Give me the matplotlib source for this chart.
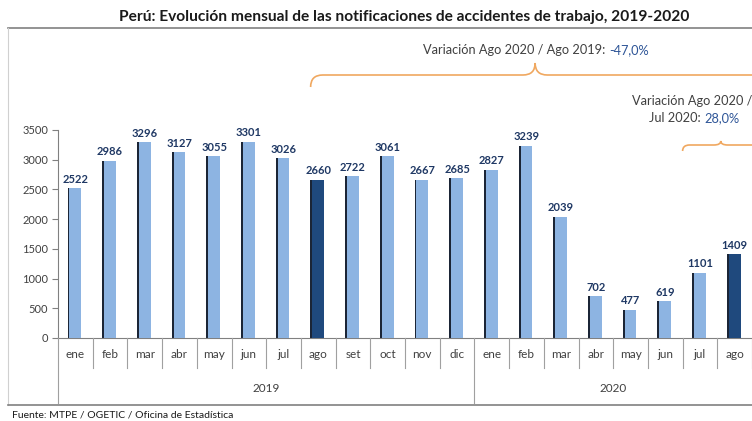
import matplotlib
matplotlib.use("Agg")
import matplotlib.pyplot as plt
from matplotlib.path import Path
from matplotlib.patches import PathPatch
from matplotlib.lines import Line2D
import matplotlib.transforms as mtransforms

plt.rcParams['font.family'] = ['Lato', 'DejaVu Sans']

months = ["ene", "feb", "mar", "abr", "may", "jun", "jul", "ago", "set", "oct", "nov", "dic",
          "ene", "feb", "mar", "abr", "may", "jun", "jul", "ago"]
years = ["2019", "2020"]
year_counts = [12, 8]
values = [2522, 2986, 3296, 3127, 3055, 3301, 3026, 2660, 2722, 3061, 2667, 2685,
          2827, 3239, 2039, 702, 477, 619, 1101, 1409]
highlight = [7, 19]
yticks = [0, 500, 1000, 1500, 2000, 2500, 3000, 3500]

W, H = 752, 421
fig = plt.figure(figsize=(W / 100, H / 100), dpi=100)
fig.patch.set_facecolor("white")

def fx(px):
    return px / W

def fy(py):
    return 1 - py / H

ax = fig.add_axes([fx(58), fy(338), fx(752) - fx(58), fy(130) - fy(338)])
ax.set_facecolor("none")

light = "#8DB4E2"
dark = "#1F497D"
shadow = "#1b2536"
x = list(range(len(values)))
colors = [dark if i in highlight else light for i in x]
ax.bar([i - 0.045 for i in x], values, width=0.36, color=shadow, zorder=2)
ax.bar(x, values, width=0.34, color=colors, zorder=3)

for i, v in enumerate(values):
    ax.text(i, v + 60, str(v), ha="center", va="bottom", fontsize=8,
            color="#1F3864", fontweight="bold", clip_on=False)

ax.set_xlim(-0.5, len(values) - 0.5)
ax.set_ylim(0, 3500)
ax.set_yticks(yticks)
ax.set_yticklabels([str(t) for t in yticks], fontsize=8, color="#404040")
ax.tick_params(axis="y", length=4, color="#808080", pad=3)
ax.set_xticks([])
for s in ["top", "right"]:
    ax.spines[s].set_visible(False)
ax.spines["left"].set_color("#808080")
ax.spines["bottom"].set_color("#808080")

trans = mtransforms.blended_transform_factory(ax.transData, fig.transFigure)
for i, m in enumerate(months):
    ax.text(i, fy(355), m, transform=trans, ha="center", va="center",
            fontsize=8.5, color="#404040")
for k in range(len(months) + 1):
    xb = k - 0.5
    bottom = 403 if k in (0, 12) else 368
    fig.add_artist(Line2D([xb, xb], [fy(338), fy(bottom)], transform=trans,
                          color="#A0A0A0", lw=0.8))
start = 0
for yl, cnt in zip(years, year_counts):
    ax.text(start + cnt / 2 - 0.5, fy(388), yl, transform=trans, ha="center",
            va="center", fontsize=8.5, color="#404040")
    start += cnt

fig.add_artist(Line2D([fx(8), fx(752)], [fy(28), fy(28)], color="#808080", lw=1.2))
fig.add_artist(Line2D([fx(8), fx(8)], [fy(28), fy(405)], color="#D0D0D0", lw=0.8))
fig.add_artist(Line2D([fx(8), fx(752)], [fy(405), fy(405)], color="#808080", lw=1.2))
fig.text(fx(404), fy(17), "Perú: Evolución mensual de las notificaciones de accidentes de trabajo, 2019-2020",
         ha="center", va="center", fontsize=11.2, fontweight="bold", color="#1a1a1a")
fig.text(fx(12), fy(415), "Fuente: MTPE / OGETIC / Oficina de Estadística",
         ha="left", va="center", fontsize=7.5, color="#1a1a1a")

brace_color = "#F0A860"

def brace(x0, x1, xc, y_line, y_end, y_peak, r):
    verts = [
        (x0, y_end), (x0, y_line), (x0 + r, y_line),
        (xc - r, y_line),
        (xc, y_line), (xc, y_peak),
        (xc, y_line), (xc + r, y_line),
        (x1, y_line),
    ]
    codes = [Path.MOVETO, Path.CURVE3, Path.CURVE3,
             Path.LINETO,
             Path.CURVE3, Path.CURVE3,
             Path.CURVE3, Path.CURVE3,
             Path.LINETO]
    p = PathPatch(Path(verts, codes), transform=trans, fill=False,
                  edgecolor=brace_color, lw=1.2, clip_on=False)
    fig.add_artist(p)

brace(6.78, 20.5, 13.25, fy(75), fy(87), fy(63), 0.35)
brace(17.5, 20.5, 18.6, fy(145), fy(151), fy(141), 0.2)

gray_txt = "#404040"
blue_txt = "#2E5597"
fig.canvas.draw()
renderer = fig.canvas.get_renderer()

def two_color(xc, ypx, part1, part2, fs):
    t1 = fig.text(0, fy(ypx), part1, ha="left", va="center", fontsize=fs, color=gray_txt)
    t2 = fig.text(0, fy(ypx), part2, ha="left", va="center", fontsize=fs, color=blue_txt)
    w1 = t1.get_window_extent(renderer).width
    w2 = t2.get_window_extent(renderer).width
    x0 = xc - (w1 + w2) / 2
    t1.set_x(fx(x0))
    t2.set_x(fx(x0 + w1))

two_color(536, 50, "Variación Ago 2020 / Ago 2019: ", "-47,0%", 9.2)
fig.text(fx(692), fy(101), "Variación Ago 2020 /", ha="center", va="center",
         fontsize=9.2, color=gray_txt)
two_color(694, 118, "Jul 2020: ", "28,0%", 9.2)

fig.savefig("out.png", dpi=100)
